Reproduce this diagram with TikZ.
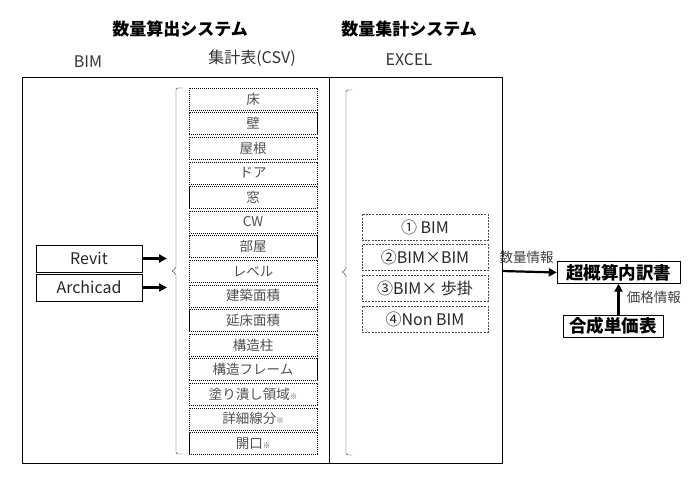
\documentclass[tikz,border=0pt]{standalone}
\usepackage{fontspec}
\setmainfont{Noto Sans CJK JP}
\usetikzlibrary{arrows.meta}

\definecolor{listgray}{HTML}{505050}
\newcommand{\kome}{{\fontsize{7.5}{8}\selectfont ※}}

\tikzset{
	csvbox/.style={draw, thin, dash pattern=on 1.2pt off 0.8pt, minimum width=128pt, minimum height=22pt, inner sep=0pt, text=listgray, font=\fontsize{13.5}{14}\selectfont},
	xlsbox/.style={draw, thin, dash pattern=on 2pt off 1.2pt, draw=black!70, minimum width=126pt, minimum height=26pt, inner sep=0pt, text=black!85, font=\fontsize{16}{18}\selectfont},
	bimbox/.style={draw, minimum width=106pt, minimum height=27pt, inner sep=0pt, text=black!85, font=\fontsize{16}{18}\selectfont},
	outbox/.style={draw, inner sep=0pt, font=\fontsize{17.5}{20}\selectfont\bfseries},
	title/.style={font=\fontsize{17}{20}\selectfont\bfseries},
	head/.style={text=black!80, font=\fontsize{16}{18}\selectfont},
	small/.style={text=black!75, font=\fontsize{13.5}{15}\selectfont},
	fat/.style={line width=2.2pt, -{Triangle[length=8pt,width=8pt]}},
	curly/.style={thin, black!85, rounded corners=2pt},
}

\begin{document}
\begin{tikzpicture}[x=1pt, y=-1pt]
	\useasboundingbox (0,0) rectangle (700,484);

	% titles
	\node[title] (t1) at (180,29) {数量算出システム};
	\node[title] (t2) at (409,29) {数量集計システム};
	\node[head] (h1) at (88,62) {BIM};
	\node[head] (h2) at (252,58) {集計表(CSV)};
	\node[head] (h3) at (409,60) {EXCEL};

	% frames
	\draw (22,77) rectangle (329,463);
	\draw (329,77) rectangle (502,463);
	\coordinate (R) at (502,271);

	\draw[curly] (183,88) -- (176,88) -- (176,269) -- (171,271) -- (176,273) -- (176,454) -- (183,454);
	\coordinate (L) at (167,271);

	% CSV list
	\foreach \i/\n in {0/床,1/壁,2/屋根,3/ドア,4/窓,5/CW,6/部屋,7/レベル,8/建築面積,9/延床面積,10/構造柱,11/構造フレーム,12/塗り潰し領域\kome,13/詳細線分\kome,14/開口\kome}
		\node[csvbox] (c\i) at (253,99+24.6*\i) {\n};

	% BIM tools
	\node[bimbox] (revit) at (89,258.5) {Revit};
	\node[bimbox] (archi) at (89,287.5) {Archicad};

	\draw[fat] (revit.east) -- (revit.east -| L);
	\draw[fat] (archi.east) -- (archi.east -| L);

	% EXCEL list
	\node[xlsbox] (x1) at (425,227) {① BIM};
	\node[xlsbox] (x2) at (425,257.5) {②BIM×BIM};
	\node[xlsbox] (x3) at (425,288) {③BIM× 歩掛};
	\node[xlsbox] (x4) at (425,319) {④Non BIM};

	\draw[curly] (352,90) -- (346,90) -- (346,270) -- (341,272) -- (346,274) -- (346,455) -- (352,455);

	% outputs
	\node[outbox, minimum width=123pt, minimum height=22pt] (sum) at (618.5,272.5) {超概算内訳書};
	\node[outbox, minimum width=100pt, minimum height=22pt] (unit) at (613,326) {合成単価表};

	\draw[fat] (R) -- (sum.west) node[small, pos=0.45, above=4pt] (q) {数量情報};
	\draw[fat] (unit.north -| sum) -- (sum.south) node[small, pos=0.55, right=4pt] (p) {価格情報};
\end{tikzpicture}
\end{document}
